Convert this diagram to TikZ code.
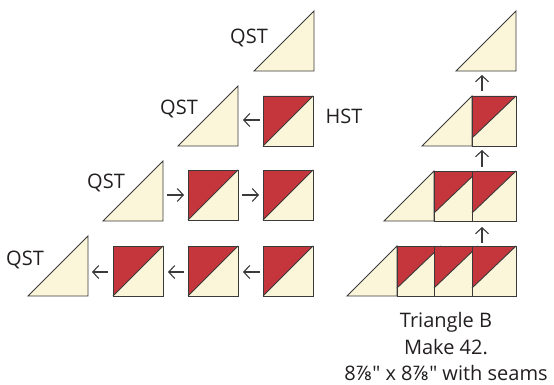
\documentclass[tikz,border=0pt]{standalone}
\usepackage{fontspec}
\setmainfont{Open Sans}[Ligatures=TeXOff]
\newfontfamily\fracfont{Noto Sans}
\usetikzlibrary{arrows.meta}
\definecolor{quiltcream}{HTML}{FBF5DA}
\definecolor{quiltred}{HTML}{C4363C}
\definecolor{seamline}{HTML}{3A3A3A}
\definecolor{inktext}{HTML}{231F20}
\tikzset{
  piece/.style = {draw=seamline, line width=0.9pt, line join=miter},
  steparrow/.style = {-{Straight Barb[length=6pt,width=13pt]}, line width=1.1pt, draw=seamline},
  piecetext/.style = {font=\fontsize{20}{24}\selectfont, text=inktext, inner sep=0pt, anchor=base}
}
% quarter-square triangle: bottom-left corner, leg length
\newcommand{\qstpiece}[3]{%
  \draw[piece, fill=quiltcream] (#1,#2) -- ++(#3,0) -- ++(0,-#3) -- cycle;}
% half-square triangle: top-left corner
\newcommand{\hstpiece}[2]{%
  \fill[quiltcream] (#1,#2) rectangle ++(50,50);
  \fill[quiltred] (#1,#2) -- ++(50,0) -- ++(-50,50) -- cycle;
  \draw[piece] (#1,#2) rectangle ++(50,50);
  \draw[piece] (#1,#2+50) -- ++(50,-50);}
% sewn unit with seam: top-left corner
\newcommand{\seampiece}[2]{%
  \fill[quiltcream] (#1,#2) rectangle ++(44,50);
  \fill[quiltred] (#1,#2) -- ++(44,0) -- ++(-44,42) -- cycle;
  \draw[piece] (#1,#2) rectangle ++(44,50);
  \draw[piece] (#1,#2+42) -- ++(44,-42);}
\begin{document}
\begin{tikzpicture}[x=1pt, y=-1pt]
\useasboundingbox (0,0) rectangle (554,385);
% left: pieces
\qstpiece{254}{71}{60}
\qstpiece{178}{146}{60}
\hstpiece{263}{96}
\qstpiece{103}{221}{60}
\hstpiece{188}{170}
\hstpiece{263}{170}
\qstpiece{28}{296}{60}
\hstpiece{113}{246}
\hstpiece{188}{246}
\hstpiece{263}{246}
% left: labels
\node[piecetext] (qst1) at (249,44) {QST};
\node[piecetext] (qst2) at (179,115) {QST};
\node[piecetext] (hst) at (344,124) {HST};
\node[piecetext] (qst3) at (106,188) {QST};
\node[piecetext] (qst4) at (25,265) {QST};
% left: arrows
\coordinate (r2a) at (260,120); \coordinate (r2b) at (243,120);
\coordinate (r3a) at (167,195); \coordinate (r3b) at (184,195);
\coordinate (r3c) at (242,195); \coordinate (r3d) at (259,195);
\coordinate (r4a) at (108,272); \coordinate (r4b) at (92,272);
\coordinate (r4c) at (184,272); \coordinate (r4d) at (168,272);
\coordinate (r4e) at (260,272); \coordinate (r4f) at (243,272);
\draw[steparrow] (r2a) -- (r2b);
\draw[steparrow] (r3a) -- (r3b);
\draw[steparrow] (r3c) -- (r3d);
\draw[steparrow] (r4a) -- (r4b);
\draw[steparrow] (r4c) -- (r4d);
\draw[steparrow] (r4e) -- (r4f);
% right: sewn rows
\qstpiece{456}{71}{60}
\qstpiece{422}{146}{50}
\seampiece{472}{96}
\qstpiece{384}{221}{50}
\seampiece{434}{171}
\seampiece{472}{171}
\qstpiece{347}{296}{50}
\seampiece{397}{246}
\seampiece{434}{246}
\seampiece{472}{246}
% right: arrows
\coordinate (u1a) at (482,91); \coordinate (u1b) at (482,75);
\coordinate (u2a) at (482,167); \coordinate (u2b) at (482,150);
\coordinate (u3a) at (482,243); \coordinate (u3b) at (482,227);
\draw[steparrow] (u1a) -- (u1b);
\draw[steparrow] (u2a) -- (u2b);
\draw[steparrow] (u3a) -- (u3b);
% caption
\node[piecetext] (capname) at (446,327) {Triangle B};
\node[piecetext] (capcount) at (446,354) {Make 42.};
\node[piecetext] (capsize) at (446,380) {8{\fracfont ⅞}" x 8{\fracfont ⅞}" with seams};
\end{tikzpicture}
\end{document}
